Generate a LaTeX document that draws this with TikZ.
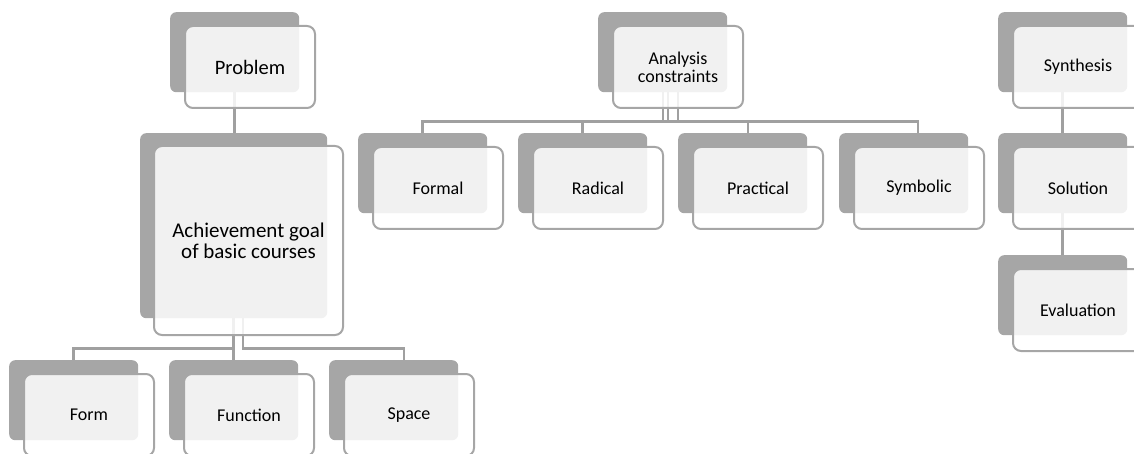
\documentclass[tikz,border=0pt]{standalone}
\usepackage{fontspec}
\setmainfont{Carlito}
\usetikzlibrary{backgrounds}

\definecolor{shadegray}{RGB}{166,166,166}
\definecolor{linkgray}{RGB}{160,160,160}

\tikzset{
  boxback/.style={fill=shadegray, rounded corners=6pt, minimum width=129pt,
    minimum height=80pt, inner sep=0pt, anchor=north west},
  boxfront/.style={draw=shadegray, line width=2pt, fill=white, fill opacity=0.85,
    text opacity=1, rounded corners=8pt, minimum width=130pt, minimum height=82pt,
    inner sep=2pt, align=center, anchor=north west,
    font=\fontsize{18}{18}\selectfont},
  link/.style={draw=linkgray, line width=2.5pt},
}

\begin{document}
\begin{tikzpicture}[x=1pt,y=-1pt]
    \useasboundingbox (0,0) rectangle (1134,454);
    \clip (0,0) rectangle (1134,454);

    % Left tree
    \node[boxback] (probB) at (170,12) {};
    \node[boxfront, font=\fontsize{20.5}{20}\selectfont] (prob) at ([shift={(14,13)}]probB.north west) {Problem};
    \node[boxback, minimum width=187pt, minimum height=185pt] (goalB) at (140,133) {};
    \node[boxfront, minimum width=189pt, minimum height=189pt, font=\fontsize{21}{21}\selectfont] (goal) at ([shift={(13,12)}]goalB.north west) {Achievement goal\\of basic courses};

    \node[boxback] (formB) at (9,360) {};
    \node[boxfront] (form) at ([shift={(14,13)}]formB.north west) {Form};
    \node[boxback] (funcB) at (169,360) {};
    \node[boxfront] (func) at ([shift={(14,13)}]funcB.north west) {Function};
    \node[boxback] (spaceB) at (329,360) {};
    \node[boxfront] (space) at ([shift={(14,13)}]spaceB.north west) {Space};

    % Middle tree
    \node[boxback] (anaB) at (598,12) {};
    \node[boxfront] (ana) at ([shift={(14,13)}]anaB.north west) {Analysis\\constraints};

    \node[boxback] (formalB) at (358,133) {};
    \node[boxfront] (formal) at ([shift={(14,13)}]formalB.north west) {Formal};
    \node[boxback] (radB) at (518,133) {};
    \node[boxfront] (rad) at ([shift={(14,13)}]radB.north west) {Radical};
    \node[boxback] (pracB) at (678,133) {};
    \node[boxfront] (prac) at ([shift={(14,13)}]pracB.north west) {Practical};
    \node[boxback] (symB) at (839,133) {};
    \node[boxfront] (sym) at ([shift={(14,13)}]symB.north west) {Symbolic};

    % Right column
    \node[boxback] (synB) at (998,12) {};
    \node[boxfront] (syn) at ([shift={(14,13)}]synB.north west) {Synthesis};
    \node[boxback] (solB) at (998,133) {};
    \node[boxfront] (sol) at ([shift={(14,13)}]solB.north west) {Solution};
    \node[boxback] (evalB) at (998,255) {};
    \node[boxfront] (eval) at ([shift={(14,13)}]evalB.north west) {Evaluation};

    % Connectors
    \begin{pgfonlayer}{background}
        \draw[link] (probB.south) -- (probB.south |- goalB.north);
        \draw[link] (goalB.south) -- ++(0,30) -| (formB.north);
        \draw[link] (goalB.south) -- (funcB.north);
        \draw[link] ([xshift=9.5pt]goalB.south) -- ++(0,30) -| ([xshift=10.5pt]spaceB.north);

        \draw[link] ([xshift=0.5pt]anaB.south) -- ++(0,29) -| (formalB.north);
        \draw[link] ([xshift=5.5pt]anaB.south) -- ++(0,29) -| (radB.north);
        \draw[link] ([xshift=0.5pt]anaB.south) -- ++(0,29) -| ([xshift=5.5pt]pracB.north);
        \draw[link] ([xshift=15.5pt]anaB.south) -- ++(0,29) -| ([xshift=14.5pt]symB.north);

        \draw[link] (synB.south) -- (solB.north);
        \draw[link] (solB.south) -- (evalB.north);
    \end{pgfonlayer}
\end{tikzpicture}
\end{document}
